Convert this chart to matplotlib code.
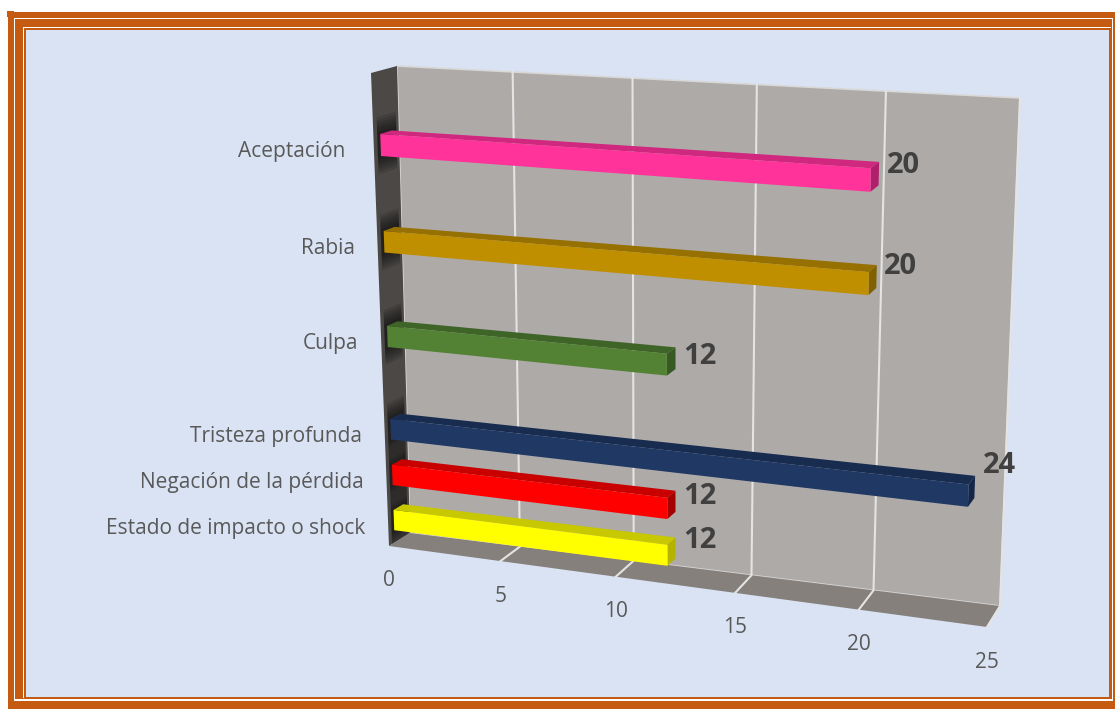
import numpy as np
import matplotlib
matplotlib.use('Agg')
import matplotlib.pyplot as plt
from matplotlib.patches import Rectangle, Polygon

# blank categories leave the wider gaps in the upper half of the chart
categories = ['Estado de impacto o shock', 'Negación de la pérdida', 'Tristeza profunda', '',
              'Culpa', '', 'Rabia', '', 'Aceptación ', '']
values = [12, 12, 24, None, 12, None, 20, None, 20, None]
face_colors = ['#ffff00', '#ff0000', '#1f3864', None, '#548235', None, '#bf8f00', None, '#ff3399', None]
top_colors = ['#c8c800', '#c80000', '#182c50', None, '#3f6428', None, '#967000', None, '#d0287e', None]
side_colors = ['#b4b400', '#a50000', '#14264a', None, '#385a22', None, '#806000', None, '#b01f6c', None]
xticks = [0, 5, 10, 15, 20, 25]
xmax = 25.0
nslots = len(categories)

ORANGE = '#c55a11'
BG = '#dae3f3'

# outline of the 3d box, in picture pixels: (left/right, bottom/top)
src = [(0, 0), (1, 0), (0, 1), (1, 1)]
back_pts = [(410, 533), (1000, 606), (397, 66), (1020, 98)]
front_pts = [(389, 546), (987, 627), (371, 73), (1003, 113)]


def homography(pts):
    a, b = [], []
    for (u, v), (x, y) in zip(src, pts):
        a.append([u, v, 1, 0, 0, 0, -u*x, -v*x])
        a.append([0, 0, 0, u, v, 1, -u*y, -v*y])
        b += [x, y]
    return np.append(np.linalg.solve(np.array(a, float), np.array(b, float)), 1).reshape(3, 3)


H_back = homography(back_pts)
H_front = homography(front_pts)


def proj(val, slot, depth):
    # depth 0 = front of the box, depth 1 = back wall
    p = np.array([val/xmax, slot/nslots, 1.0])
    f = H_front @ p
    b = H_back @ p
    return (1-depth)*f[:2]/f[2] + depth*b[:2]/b[2]


fig = plt.figure(figsize=(11.15, 7.09), dpi=100)
ax = fig.add_axes([0, 0, 1, 1])
ax.set_xlim(0, 1115)
ax.set_ylim(709, 0)
ax.axis('off')
plt.rcParams['font.family'] = ['Open Sans', 'DejaVu Sans']

# frame
ax.add_patch(Rectangle((8, 12), 1107, 697, fc=ORANGE, ec='none'))
ax.add_patch(Rectangle((7, 11), 7, 6, fc=ORANGE, ec='none'))
ax.add_patch(Rectangle((14, 18), 1099, 683, fc='white', ec='none'))
ax.add_patch(Rectangle((15, 19), 1097, 680, fc=ORANGE, ec='none'))
ax.add_patch(Rectangle((23, 27), 1088, 671, fc='white', ec='none'))
ax.add_patch(Rectangle((24, 28), 1087, 671, fc=ORANGE, ec='none'))
ax.add_patch(Rectangle((26, 30), 1083, 667, fc=BG, ec='none'))

# walls and floor
wall = Polygon([proj(0, nslots, 0), proj(0, nslots, 1), proj(0, 0, 1), proj(0, 0, 0)],
               fc='#4b4846', ec='none', zorder=2)
ax.add_patch(wall)
ax.fill(*zip(proj(0, 0, 1), proj(xmax, 0, 1), proj(xmax, nslots, 1), proj(0, nslots, 1)),
        fc='#aeaaa8', ec='#d8d8d8', lw=1.2, zorder=1)
ax.fill(*zip(proj(0, 0, 0), proj(xmax, 0, 0), proj(xmax, 0, 1), proj(0, 0, 1)),
        fc='#85807c', ec='none', zorder=2)

for t in xticks[1:]:
    ax.plot(*zip(proj(t, nslots, 1), proj(t, 0, 1), proj(t, 0, 0)), color='#e4e4e4', lw=1.5, zorder=3)

for t in xticks:
    x, y = proj(t, 0, 0)
    ax.text(x, y+35, str(t), ha='center', va='center', fontsize=15, color='#595959', zorder=8)

d0, d1 = 0.27, 0.72
half = 0.225
label_dy = {0: 0, 1: 3, 2: -13, 4: 6, 6: -2, 8: 1}

for i in range(nslots-1, -1, -1):
    c = i + 0.5
    if categories[i]:
        x, y = proj(0, c, 0)
        ax.text(x-23, y+4.5, categories[i], ha='right', va='center', fontsize=15, color='#595959', zorder=8)
    if values[i] is None:
        continue
    v = values[i]
    lo, hi = c-half, c+half
    # dark smudge the bar leaves on the side wall
    for k in range(1, 7):
        s = ax.fill(*zip(proj(0, lo-0.06*k, 0.15), proj(0, hi+0.06*k, 0.15), proj(0, hi+0.06*k, 0.9), proj(0, lo-0.06*k, 0.9)),
                    fc='black', ec='none', alpha=0.11, zorder=2.5)[0]
        s.set_clip_path(wall)
    ax.fill(*zip(proj(0, hi, d0), proj(v, hi, d0), proj(v, hi, d1), proj(0, hi, d1)),
            fc=top_colors[i], ec='none', zorder=4)
    ax.fill(*zip(proj(v, lo, d0), proj(v, hi, d0), proj(v, hi, d1), proj(v, lo, d1)),
            fc=side_colors[i], ec='none', zorder=4)
    ax.fill(*zip(proj(0, lo, d0), proj(v, lo, d0), proj(v, hi, d0), proj(0, hi, d0)),
            fc=face_colors[i], ec='none', zorder=5)
    x, y = proj(v, hi, d1)
    ax.text(x+24, y+3+label_dy.get(i, 0), str(v), ha='center', va='center', fontsize=21,
            fontweight='bold', color='#404040', zorder=9)

fig.savefig('out.png', dpi=100, facecolor='white')
